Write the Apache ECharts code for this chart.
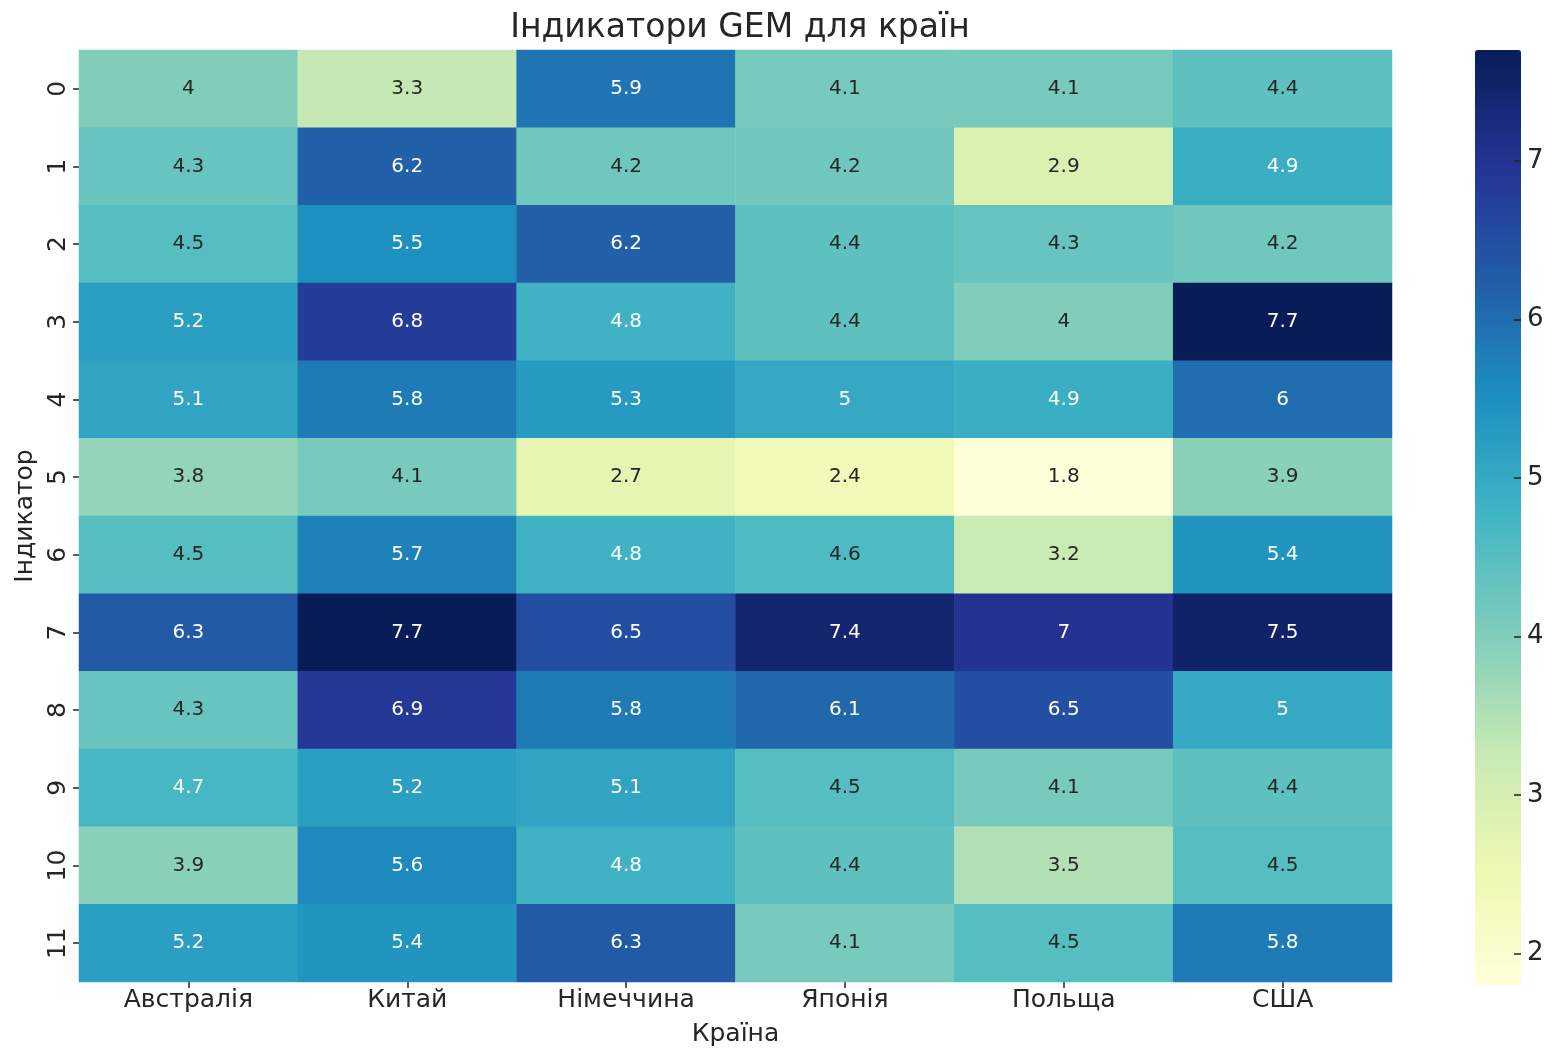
<!DOCTYPE html>
<html lang="uk" style="height: 100%">
  <head>
    <meta charset="utf-8" />
    <script src="https://cdn.jsdelivr.net/npm/echarts@6/dist/echarts.min.js"></script>
  </head>
  <body style="height: 100%; margin: 0; background: #fff">
    <div id="container" style="width: 1552px; height: 1052px"></div>
    <script type="text/javascript">
      // countries (columns) and indicators (rows)
      const countries = ["Австралія", "Китай", "Німеччина", "Японія", "Польща", "США"];
      const indicators = ["0", "1", "2", "3", "4", "5", "6", "7", "8", "9", "10", "11"];

      // values per country, indicator 0..11
      const australia = [4, 4.3, 4.5, 5.2, 5.1, 3.8, 4.5, 6.3, 4.3, 4.7, 3.9, 5.2];
      const china = [3.3, 6.2, 5.5, 6.8, 5.8, 4.1, 5.7, 7.7, 6.9, 5.2, 5.6, 5.4];
      const germany = [5.9, 4.2, 6.2, 4.8, 5.3, 2.7, 4.8, 6.5, 5.8, 5.1, 4.8, 6.3];
      const japan = [4.1, 4.2, 4.4, 4.4, 5, 2.4, 4.6, 7.4, 6.1, 4.5, 4.4, 4.1];
      const poland = [4.1, 2.9, 4.3, 4, 4.9, 1.8, 3.2, 7, 6.5, 4.1, 3.5, 4.5];
      const usa = [4.4, 4.9, 4.2, 7.7, 6, 3.9, 5.4, 7.5, 5, 4.4, 4.5, 5.8];

      const columns = [australia, china, germany, japan, poland, usa];
      const colorbarTicks = [2, 3, 4, 5, 6, 7];

      // YlGnBu
      const ylGnBu = ["#ffffd9", "#edf8b1", "#c7e9b4", "#7fcdbb", "#41b6c4",
                      "#1d91c0", "#225ea8", "#253494", "#081d58"];

      const FONT = "DejaVu Sans";
      const TXT = "#262626";
      const vmin = 1.8, vmax = 7.7;

      var data = [];
      for (var c = 0; c < columns.length; c++) {
        for (var r = 0; r < indicators.length; r++) {
          var v = columns[c][r];
          data.push({
            value: [c, r, v],
            label: { color: v >= 4.65 ? "#ffffff" : TXT },
          });
        }
      }

      var chart = echarts.init(document.getElementById("container"), null, {
        renderer: "canvas",
      });

      var option = {
        animation: false,
        backgroundColor: "#ffffff",
        textStyle: { fontFamily: FONT },
        title: {
          text: "Індикатори GEM для країн",
          left: 735,
          textAlign: "center",
          top: 7,
          textStyle: { fontFamily: FONT, fontSize: 33, fontWeight: "normal", color: TXT },
        },
        grid: [
          { left: 79, right: 160, top: 50, bottom: 69 },
          { left: 1475, width: 46, top: 50, height: 935 },
        ],
        xAxis: [
          {
            type: "category",
            data: countries,
            gridIndex: 0,
            name: "Країна",
            nameLocation: "middle",
            nameGap: 40,
            nameTextStyle: { fontFamily: FONT, fontSize: 25, color: TXT },
            axisLine: { show: false },
            axisTick: { show: true, alignWithLabel: true, length: 6, lineStyle: { color: "#222", width: 1.5 } },
            axisLabel: { fontFamily: FONT, fontSize: 25, color: TXT, margin: 6 },
            splitLine: { show: false },
          },
          { type: "value", gridIndex: 1, show: false, min: 0, max: 1 },
        ],
        yAxis: [
          {
            type: "category",
            data: indicators,
            inverse: true,
            gridIndex: 0,
            name: "Індикатор",
            nameLocation: "middle",
            nameGap: 40,
            nameTextStyle: { fontFamily: FONT, fontSize: 25, color: TXT },
            axisLine: { show: false },
            axisTick: { show: true, alignWithLabel: true, length: 6, lineStyle: { color: "#222", width: 1.5 } },
            axisLabel: { fontFamily: FONT, fontSize: 25, color: TXT, rotate: 90, margin: 8 },
            splitLine: { show: false },
          },
          {
            type: "value",
            gridIndex: 1,
            position: "right",
            min: vmin,
            max: vmax,
            z: 10,
            axisLine: { show: true, onZero: false, lineStyle: { color: "rgba(0,0,0,0)" } },
            splitLine: { show: false },
            axisTick: {
              show: true,
              inside: true,
              length: 7,
              customValues: colorbarTicks,
              lineStyle: { color: "#222", width: 1.5 },
            },
            axisLabel: {
              fontFamily: FONT,
              fontSize: 26,
              color: TXT,
              margin: 6,
              customValues: colorbarTicks,
            },
          },
        ],
        visualMap: {
          type: "continuous",
          seriesIndex: 0,
          min: vmin,
          max: vmax,
          calculable: false,
          orient: "vertical",
          left: 1475,
          top: 50,
          padding: 0,
          itemWidth: 46,
          itemHeight: 935,
          text: null,
          showLabel: false,
          z: 1,
          inRange: { color: ylGnBu },
        },
        series: [
          {
            type: "heatmap",
            xAxisIndex: 0,
            yAxisIndex: 0,
            data: data,
            label: {
              show: true,
              fontFamily: FONT,
              fontSize: 20,
              formatter: function (p) {
                return String(p.value[2]);
              },
            },
            itemStyle: { borderWidth: 0 },
            emphasis: { disabled: true },
          },
          {
            type: "scatter",
            xAxisIndex: 1,
            yAxisIndex: 1,
            data: [],
          },
        ],
      };

      chart.setOption(option);
    </script>
  </body>
</html>
